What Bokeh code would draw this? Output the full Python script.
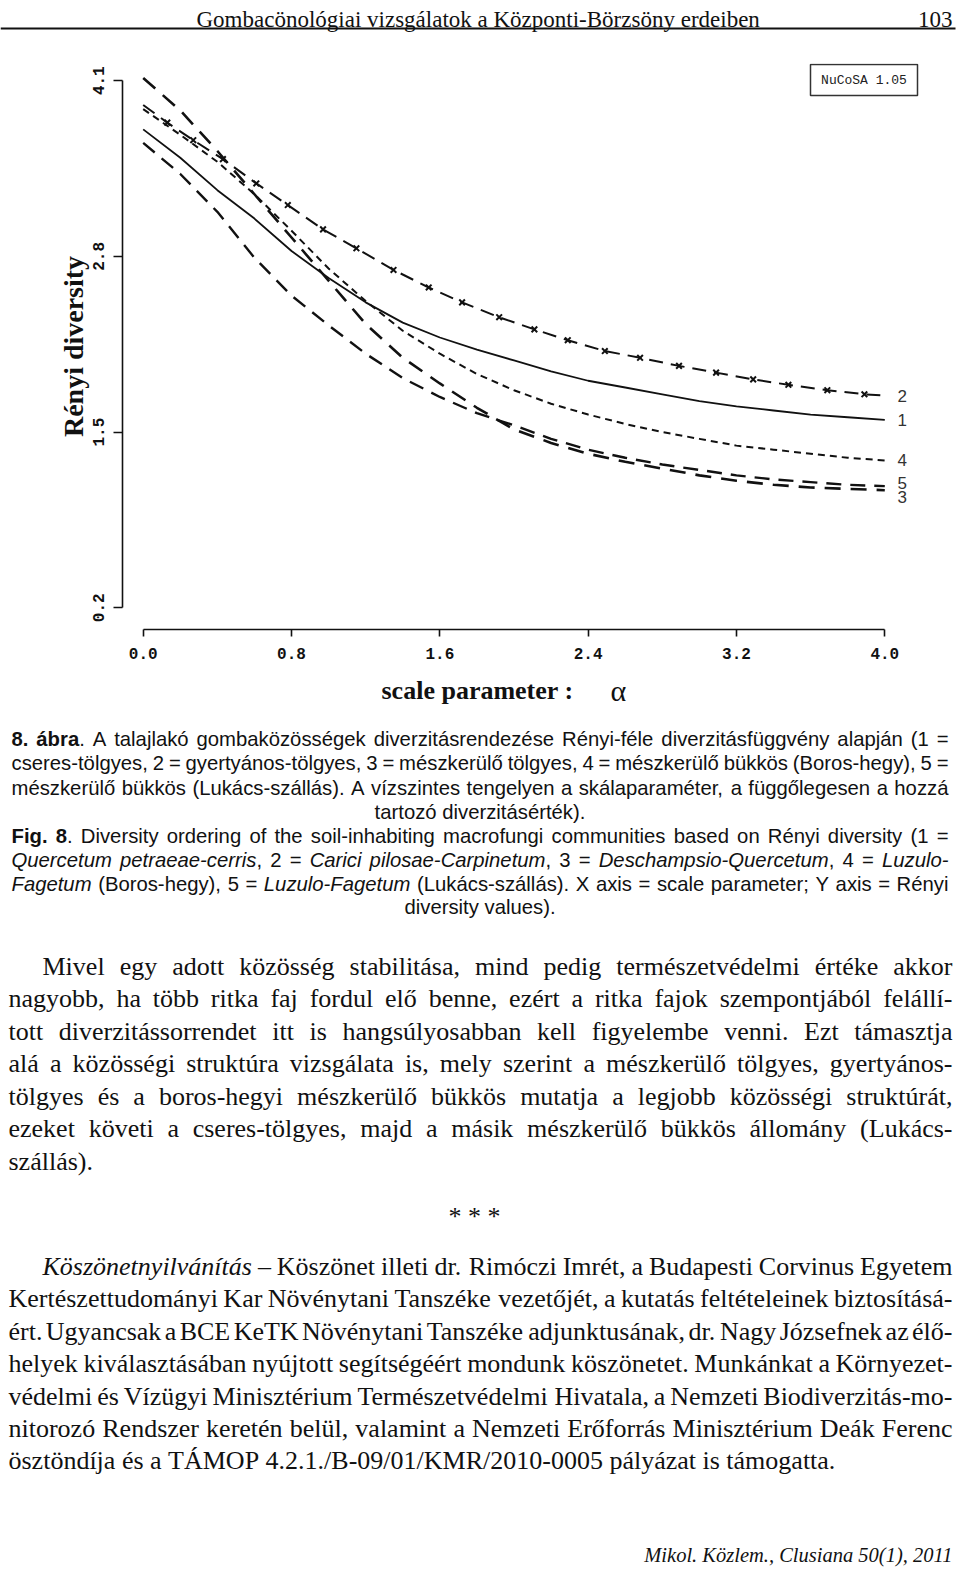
from bokeh.plotting import figure
from bokeh.models import Range1d, FixedTicker
from bokeh.layouts import column
from bokeh.core.properties import value
from bokeh.embed import file_html
from bokeh.resources import INLINE

# ------------------------------------------------------------------ data
alpha = [0.0, 0.2, 0.4, 0.6, 0.8, 1.0, 1.2, 1.4, 1.6, 1.8, 2.0,
         2.2, 2.4, 2.6, 2.8, 3.0, 3.2, 3.4, 3.6, 3.8, 4.0]
renyi_1 = [3.74, 3.53, 3.29, 3.08, 2.84, 2.64, 2.46, 2.31, 2.20, 2.11, 2.03,
           1.95, 1.88, 1.83, 1.78, 1.73, 1.69, 1.66, 1.63, 1.61, 1.59]
renyi_3 = [4.12, 3.88, 3.58, 3.26, 2.94, 2.62, 2.30, 2.05, 1.86, 1.68, 1.52,
           1.42, 1.34, 1.28, 1.23, 1.18, 1.14, 1.11, 1.09, 1.08, 1.07]
renyi_4 = [3.89, 3.70, 3.50, 3.26, 2.99, 2.71, 2.47, 2.25, 2.08, 1.93, 1.81,
           1.71, 1.63, 1.56, 1.50, 1.45, 1.40, 1.37, 1.34, 1.31, 1.29]
renyi_5 = [3.64, 3.41, 3.13, 2.79, 2.51, 2.29, 2.08, 1.90, 1.76, 1.64, 1.55,
           1.45, 1.37, 1.31, 1.26, 1.22, 1.18, 1.15, 1.13, 1.11, 1.10]
alpha_2 = [0.0, 0.13, 0.27, 0.43, 0.61, 0.78, 0.97, 1.15, 1.35, 1.54, 1.72, 1.92,
           2.11, 2.29, 2.49, 2.68, 2.89, 3.09, 3.29, 3.48, 3.69, 3.89, 4.0]
renyi_2 = [3.92, 3.79, 3.66, 3.52, 3.34, 3.18, 3.00, 2.86, 2.70, 2.57, 2.46, 2.35,
           2.26, 2.18, 2.10, 2.05, 1.99, 1.94, 1.89, 1.85, 1.81, 1.78, 1.77]
series_names = ["1", "2", "3", "4", "5"]
x_ticks = [0.0, 0.8, 1.6, 2.4, 3.2, 4.0]
x_tick_labels = ["0.0", "0.8", "1.6", "2.4", "3.2", "4.0"]
y_ticks = [0.2, 1.5, 2.8, 4.1]
y_tick_labels = ["0.2", "1.5", "2.8", "4.1"]
x_title = "scale parameter :"
x_title_symbol = "\u03b1"
y_title = "Rényi diversity"
badge_text = "NuCoSA 1.05"

header_title = "Gombacönológiai vizsgálatok a Központi-Börzsöny erdeiben"
header_page = "103"

caption_lines = [
    ("J", [("8. ábra", "B"), (". A talajlakó gombaközösségek diverzitásrendezése Rényi-féle diverzitásfüggvény alapján (1 =", "R")]),
    ("J", [("cseres-tölgyes, 2 = gyertyános-tölgyes, 3 = mészkerülő tölgyes, 4 = mészkerülő bükkös (Boros-hegy), 5 =", "R")]),
    ("J", [("mészkerülő bükkös (Lukács-szállás). A vízszintes tengelyen a skálaparaméter, a függőlegesen a hozzá", "R")]),
    ("C", [("tartozó diverzitásérték).", "R")]),
    ("J", [("Fig. 8", "B"), (". Diversity ordering of the soil-inhabiting macrofungi communities based on Rényi diversity (1 =", "R")]),
    ("J", [("Quercetum petraeae-cerris", "I"), (", 2 = ", "R"), ("Carici pilosae-Carpinetum", "I"), (", 3 = ", "R"),
           ("Deschampsio-Quercetum", "I"), (", 4 = ", "R"), ("Luzulo-", "I")]),
    ("J", [("Fagetum", "I"), (" (Boros-hegy), 5 = ", "R"), ("Luzulo-Fagetum", "I"),
           (" (Lukács-szállás). X axis = scale parameter; Y axis = Rényi", "R")]),
    ("C", [("diversity values).", "R")]),
]
body_lines = [
    ("I", [("Mivel egy adott közösség stabilitása, mind pedig természetvédelmi értéke akkor", "R")]),
    ("J", [("nagyobb, ha több ritka faj fordul elő benne, ezért a ritka fajok szempontjából felállí-", "R")]),
    ("J", [("tott diverzitássorrendet itt is hangsúlyosabban kell figyelembe venni. Ezt támasztja", "R")]),
    ("J", [("alá a közösségi struktúra vizsgálata is, mely szerint a mészkerülő tölgyes, gyertyános-", "R")]),
    ("J", [("tölgyes és a boros-hegyi mészkerülő bükkös mutatja a legjobb közösségi struktúrát,", "R")]),
    ("J", [("ezeket követi a cseres-tölgyes, majd a másik mészkerülő bükkös állomány (Lukács-", "R")]),
    ("L", [("szállás).", "R")]),
]
separator = "* * *"
ack_lines = [
    ("I", [("Köszönetnyilvánítás", "I"), (" – Köszönet illeti dr. Rimóczi Imrét, a Budapesti Corvinus Egyetem", "R")]),
    ("J", [("Kertészettudományi Kar Növénytani Tanszéke vezetőjét, a kutatás feltételeinek biztosításá-", "R")]),
    ("J", [("ért. Ugyancsak a BCE KeTK Növénytani Tanszéke adjunktusának, dr. Nagy Józsefnek az élő-", "R")]),
    ("J", [("helyek kiválasztásában nyújtott segítségéért mondunk köszönetet. Munkánkat a Környezet-", "R")]),
    ("J", [("védelmi és Vízügyi Minisztérium Természetvédelmi Hivatala, a Nemzeti Biodiverzitás-mo-", "R")]),
    ("J", [("nitorozó Rendszer keretén belül, valamint a Nemzeti Erőforrás Minisztérium Deák Ferenc", "R")]),
    ("L", [("ösztöndíja és a TÁMOP 4.2.1./B-09/01/KMR/2010-0005 pályázat is támogatta.", "R")]),
]
footer_text = "Mikol. Közlem., Clusiana 50(1), 2011"

# ------------------------------------------------------------------ font metrics (Arial / Times compatible)
def _tbl(spec):
    t = {}
    for w, chars in spec:
        for c in chars:
            t[c] = w
    return t

ARIAL_R = _tbl([(278, " !,./:;ftIí"), (222, "ijl"), (333, "()-r"), (500, "cksvxyzJ"),
                (556, "abdeghnopqu0123456789áéóöőúüűL"), (584, "="), (611, "FTZ"),
                (667, "ABEKPSVXY"), (722, "CDHNRUw"), (778, "GOQ"), (833, "mM"), (944, "W")])
ARIAL_B = dict(ARIAL_R)
ARIAL_B.update(_tbl([(278, " .i"), (556, "8aá"), (611, "bgF"), (389, "r")]))
TIMES_R = _tbl([(250, " .,"), (278, "ijlt:;/í"), (333, "()-frI"), (389, "sJ"), (444, "acezáé"),
                (500, "bdghknopquvxy0123456789*–óöőúüű"), (556, "FPS"), (611, "ELTZÉ"),
                (667, "BCR"), (722, "ADGHKNOQUVXYwÁÖ"), (778, "m"), (889, "M"), (944, "W")])
TIMES_I = _tbl([(250, " .,"), (278, "fijlt/í"), (333, "()-"), (389, "rsz"), (444, "cekvxyé"),
                (500, "abdghnopqu0123456789áóöőúüű"), (667, "KCw"), (722, "m"), (833, "M")])

CAP_SIZE = 20.3
BODY_SIZE = 26.0
FONTS = {
    "capR": ("Liberation Sans", CAP_SIZE, "normal", ARIAL_R),
    "capB": ("Liberation Sans", CAP_SIZE, "bold", ARIAL_B),
    "capI": ("Liberation Sans", CAP_SIZE, "italic", ARIAL_R),
    "txtR": ("Liberation Serif", BODY_SIZE, "normal", TIMES_R),
    "txtI": ("Liberation Serif", BODY_SIZE, "italic", TIMES_I),
}


def text_width(s, key):
    fam, size, style, table = FONTS[key]
    return sum(table.get(c, 500) for c in s) * size / 1000.0


items = {}


def emit(key, x, y, s, align="left"):
    d = items.setdefault((key, align), {"x": [], "y": [], "text": []})
    d["x"].append(x)
    d["y"].append(y)
    d["text"].append(s)


def lay_line(runs, mode, x0, x1, y, prefix, indent=0.0):
    if mode == "C":
        emit(prefix + runs[0][1], (x0 + x1) / 2.0, y, runs[0][0], "center")
        return
    words, cur = [], []
    for txt, st in runs:
        buf = ""
        for ch in txt:
            if ch == " ":
                if buf:
                    cur.append((buf, st))
                    buf = ""
                if cur:
                    words.append(cur)
                    cur = []
            else:
                buf += ch
        if buf:
            cur.append((buf, st))
    if cur:
        words.append(cur)
    ws = [sum(text_width(t, prefix + st) for t, st in w) for w in words]
    start = x0 + (indent if mode == "I" else 0.0)
    if mode in ("J", "I") and len(words) > 1:
        gap = (x1 - start - sum(ws)) / (len(words) - 1)
    else:
        gap = text_width(" ", prefix + "R")
    x = start
    for w, wd in zip(words, ws):
        xx = x
        for t, st in w:
            emit(prefix + st, xx, y, t)
            xx += text_width(t, prefix + st)
        x += wd + gap


# ------------------------------------------------------------------ page geometry (page pixels)
PAGE_W = 960
HEAD_BOT, CHART_BOT, PAGE_BOT = 63, 668, 1569

# chart pixel mapping
X0_PX, XS = 142.7, 185.4
Y_BASE_PX, YS = 607.3, 135.15
FRAME_L, FRAME_B = 122, 629


def ax(px):
    return (px - X0_PX) / XS


def ay(py):
    return 0.2 + (Y_BASE_PX - py) / YS


def vpx(v):
    return Y_BASE_PX - (v - 0.2) * YS


INK = "#111111"


def page_fig(top, bottom):
    f = figure(width=PAGE_W, height=bottom - top, x_range=Range1d(0, PAGE_W),
               y_range=Range1d(bottom, top), output_backend="svg", toolbar_location=None,
               min_border=0, outline_line_color=None, x_axis_location=None, y_axis_location=None)
    f.frame_align = False
    f.grid.visible = False
    return f


# ------------------------------------------------------------------ header
ph = page_fig(0, HEAD_BOT)
ph.text(x=[196], y=[19], text=[header_title], text_font=value("Liberation Serif"),
        text_font_size="23px", text_baseline="alphabetic", text_align="left", text_color=INK)
ph.text(x=[952], y=[19], text=[header_page], text_font=value("Liberation Serif"),
        text_font_size="23px", text_baseline="alphabetic", text_align="right", text_color=INK)
ph.segment(x0=[0], y0=[28], x1=[955], y1=[28], line_color=INK, line_width=2)

# ------------------------------------------------------------------ chart
pc = figure(width=PAGE_W, height=CHART_BOT - HEAD_BOT,
            x_range=Range1d(ax(FRAME_L), ax(PAGE_W)), y_range=Range1d(ay(FRAME_B), ay(HEAD_BOT)),
            output_backend="svg", toolbar_location=None,
            min_border_left=FRAME_L, min_border_right=0, min_border_top=0,
            min_border_bottom=CHART_BOT - FRAME_B, outline_line_color=None)
pc.frame_align = False
pc.grid.visible = False

xa = pc.xaxis[0]
xa.ticker = FixedTicker(ticks=x_ticks)
xa.major_label_overrides = dict(zip(x_ticks, x_tick_labels))
xa.bounds = (x_ticks[0], x_ticks[-1])
ya = pc.yaxis[0]
ya.ticker = FixedTicker(ticks=y_ticks)
ya.major_label_overrides = dict(zip(y_ticks, y_tick_labels))
ya.bounds = (y_ticks[0], y_ticks[-1])
for a in (xa, ya):
    a.axis_line_color = INK
    a.axis_line_width = 1.6
    a.major_tick_line_color = INK
    a.major_tick_line_width = 1.6
    a.major_tick_in = 0
    a.minor_tick_in = 0
    a.minor_tick_out = 0
    a.major_label_text_font = "Liberation Mono"
    a.major_label_text_font_style = "bold"
    a.major_label_text_font_size = "16px"
    a.major_label_text_color = INK
xa.major_tick_out = 7
xa.major_label_standoff = 11
ya.major_tick_out = 9
ya.major_label_standoff = 9
ya.major_label_orientation = "vertical"
ya.axis_label = y_title
ya.axis_label_text_font = "Liberation Serif"
ya.axis_label_text_font_style = "bold"
ya.axis_label_text_font_size = "28px"
ya.axis_label_text_color = INK
ya.axis_label_standoff = 2

pc.line(alpha, renyi_1, line_color=INK, line_width=1.8)
pc.line(alpha_2, renyi_2, line_color=INK, line_width=2.0, line_dash="14 8")
pc.scatter(alpha_2[1:-1], renyi_2[1:-1], marker="x", size=8, line_color=INK, line_width=2)
pc.line(alpha, renyi_3, line_color=INK, line_width=2.6, line_dash="16 10")
pc.line(alpha, renyi_4, line_color=INK, line_width=2.0, line_dash="7 5")
pc.line(alpha, renyi_5, line_color=INK, line_width=2.4, line_dash="15 9")

ends = {"1": renyi_1[-1], "2": renyi_2[-1], "3": renyi_3[-1], "4": renyi_4[-1], "5": renyi_5[-1]}
nudge = {"1": 0, "2": 0, "3": 7, "4": 0, "5": -3}
pc.text(x=[ax(897)] * len(series_names),
        y=[ay(vpx(ends[n]) + nudge[n]) for n in series_names],
        text=series_names, text_font=value("Liberation Sans"), text_font_size="17px",
        text_baseline="middle", text_align="left", text_color="#333333")

pc.quad(left=[ax(810)], right=[ax(917)], top=[ay(64)], bottom=[ay(95)],
        fill_color="white", line_color="#333333", line_width=1.5)
pc.text(x=[ax(863.5)], y=[ay(80)], text=[badge_text], text_font=value("Liberation Mono"),
        text_font_size="13px", text_baseline="middle", text_align="center", text_color="#222222")

# ------------------------------------------------------------------ text part
pt = page_fig(CHART_BOT, PAGE_BOT)

pt.text(x=[381], y=[690], text=[x_title], text_font=value("Liberation Serif"), text_font_style="bold",
        text_font_size="26px", text_baseline="alphabetic", text_align="left", text_color=INK)
pt.text(x=[610], y=[690], text=[x_title_symbol], text_font=value("Liberation Serif"),
        text_font_size="30px", text_baseline="alphabetic", text_align="left", text_color=INK)

cap_base = [738, 762, 787, 811, 835, 859, 883, 906]
for (mode, runs), yb in zip(caption_lines, cap_base):
    lay_line(runs, mode, 11, 948, yb, "cap")
for i, (mode, runs) in enumerate(body_lines):
    lay_line(runs, mode, 8, 952, 966 + 32.45 * i, "txt", indent=34)
for i, (mode, runs) in enumerate(ack_lines):
    lay_line(runs, mode, 8, 952, 1266 + 32.4 * i, "txt", indent=34)

for (key, align), d in items.items():
    fam, size, style, _ = FONTS[key]
    pt.text(x=d["x"], y=d["y"], text=d["text"], text_font=value(fam), text_font_size=f"{size}px",
            text_font_style=style, text_align=align, text_baseline="alphabetic", text_color=INK)

pt.text(x=[474], y=[1216], text=[separator], text_font=value("Liberation Serif"), text_font_size="26px",
        text_baseline="alphabetic", text_align="center", text_color=INK)
pt.text(x=[952], y=[1554], text=[footer_text], text_font=value("Liberation Serif"), text_font_style="italic",
        text_font_size="20.5px", text_baseline="alphabetic", text_align="right", text_color=INK)

layout = column(ph, pc, pt, spacing=0)
open("out.html", "w").write(file_html(layout, INLINE))
